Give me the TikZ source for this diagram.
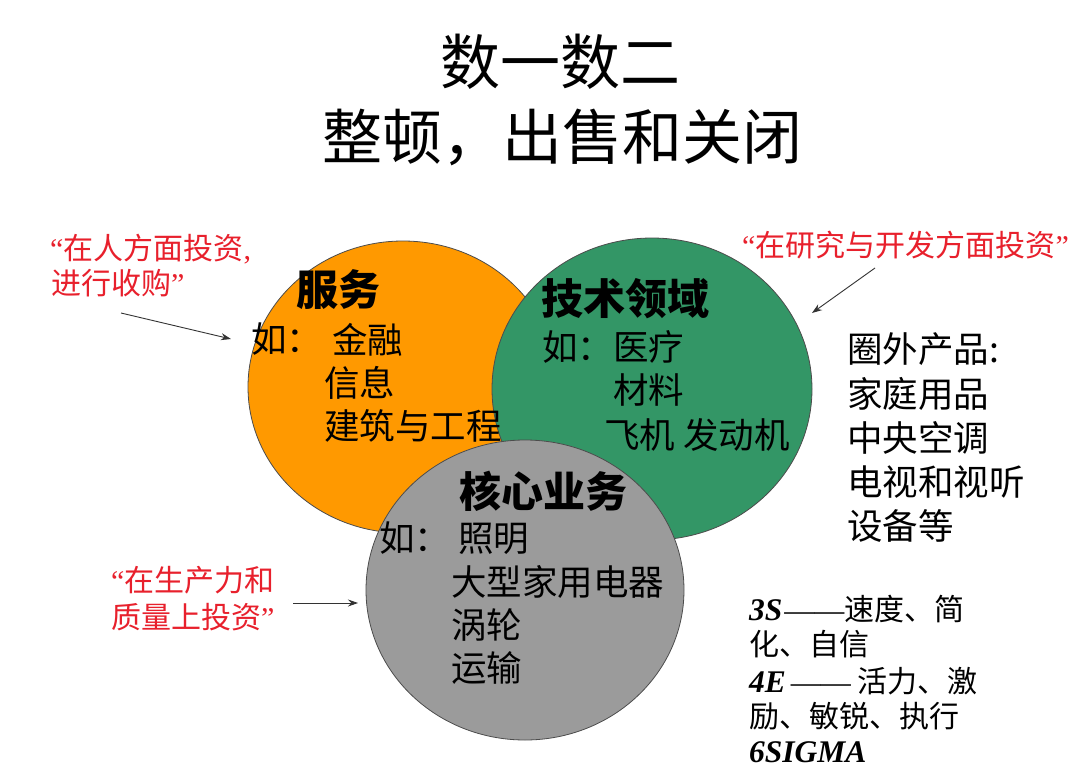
\documentclass[tikz,border=0pt]{standalone}
\usepackage{fontspec}
\setmainfont{Noto Sans CJK SC}
\newfontfamily\lat{Liberation Serif}
\usetikzlibrary{arrows.meta,shapes.geometric}
\definecolor{orfill}{RGB}{255,153,0}
\definecolor{grfill}{RGB}{51,150,102}
\definecolor{gyfill}{RGB}{155,155,155}
\definecolor{redq}{RGB}{232,32,44}
\newcommand{\bi}[1]{{\lat\bfseries\itshape\fontsize{31.5}{31.5}\selectfont #1}}
\begin{document}
\begin{tikzpicture}[x=1pt,y=-1pt,
  circ/.style={draw=black!70, line width=0.8pt, ellipse, inner sep=0pt},
  titlef/.style={anchor=west, inner sep=0pt, font=\fontsize{60}{60}\selectfont},
  head/.style={anchor=west, inner sep=0pt, font=\fontsize{42}{42}\selectfont\bfseries},
  body/.style={anchor=west, inner sep=0pt, font=\fontsize{35.5}{35.5}\selectfont},
  redtxt/.style={anchor=west, inner sep=0pt, text=redq, font=\fontsize{30}{30}\selectfont},
  note/.style={anchor=west, inner sep=0pt, font=\fontsize{30}{30}\selectfont},
  arr/.style={-{Stealth[length=10pt,width=7pt]}, line width=0.9pt, draw=black!80}]
\useasboundingbox[fill=white] (0,0) rectangle (1080,774);

% title
\node[titlef] (t1) at (440,62) {数一数二};
\node[titlef] (t2) at (322,137) {整顿，出售和关闭};

% circles
\node[circ, fill=orfill, minimum width=310pt, minimum height=292pt] (cor) at (403,387) {};
\node[circ, fill=grfill, minimum width=320pt, minimum height=302pt] (cgr) at (652,389) {};
\node[circ, fill=gyfill, minimum width=318pt, minimum height=300pt] (cgy) at (525,590) {};

% orange circle text
\node[head] (h1) at (296,290) {服务};
\node[body] (o1) at (251,339) {如：};
\node[body] (o2) at (332,340) {金融};
\node[body] (o3) at (324,383) {信息};
\node[body] (o4) at (324,426) {建筑与工程};

% green circle text
\node[head] (h2) at (541,299) {技术领域};
\node[body] (g1) at (542,347) {如：};
\node[body] (g2) at (613,347) {医疗};
\node[body] (g3) at (613,390) {材料};
\node[body] (g4) at (604,435) {飞机 发动机};

% gray circle text
\node[head] (h3) at (459,491) {核心业务};
\node[body] (y1) at (379,538) {如：};
\node[body] (y2) at (458,539) {照明};
\node[body] (y3) at (451,582) {大型家用电器};
\node[body] (y4) at (451,625) {涡轮};
\node[body] (y5) at (451,668) {运输};

% right list
\node[body] (r1) at (847,349) {圈外产品:};
\node[body] (r2) at (847,394) {家庭用品};
\node[body] (r3) at (847,438) {中央空调};
\node[body] (r4) at (847,482) {电视和视听};
\node[body] (r5) at (847,526) {设备等};

% red quotes
\node[redtxt] (q1a) at (50,249) {{\lat “}在人方面投资{\lat ,}};
\node[redtxt] (q1b) at (51,283) {进行收购{\lat ”}};
\node[redtxt] (q2) at (742,245) {{\lat “}在研究与开发方面投资{\lat ”}};
\node[redtxt] (q3a) at (111,580) {{\lat “}在生产力和};
\node[redtxt] (q3b) at (111,617) {质量上投资{\lat ”}};

% arrows
\coordinate (a1s) at (121,313); \coordinate (a1e) at (231,339);
\coordinate (a2s) at (875,268); \coordinate (a2e) at (812,313);
\coordinate (a3s) at (293,603); \coordinate (a3e) at (358,603);
\draw[arr] (a1s) -- (a1e);
\draw[arr] (a2s) -- (a2e);
\draw[arr] (a3s) -- (a3e);

% bottom right notes
\node[note] (n1) at (749,609) {\bi{3S}\hspace{2pt}{\lat ——}速度、简};
\node[note] (n2) at (749,644) {化、自信};
\node[note] (n3) at (749,681) {\bi{4E}\hspace{5pt}{\lat ——} 活力、激};
\node[note] (n4) at (749,716) {励、敏锐、执行};
\node[note] (n5) at (749,752) {\bi{6SIGMA}};
\end{tikzpicture}
\end{document}
